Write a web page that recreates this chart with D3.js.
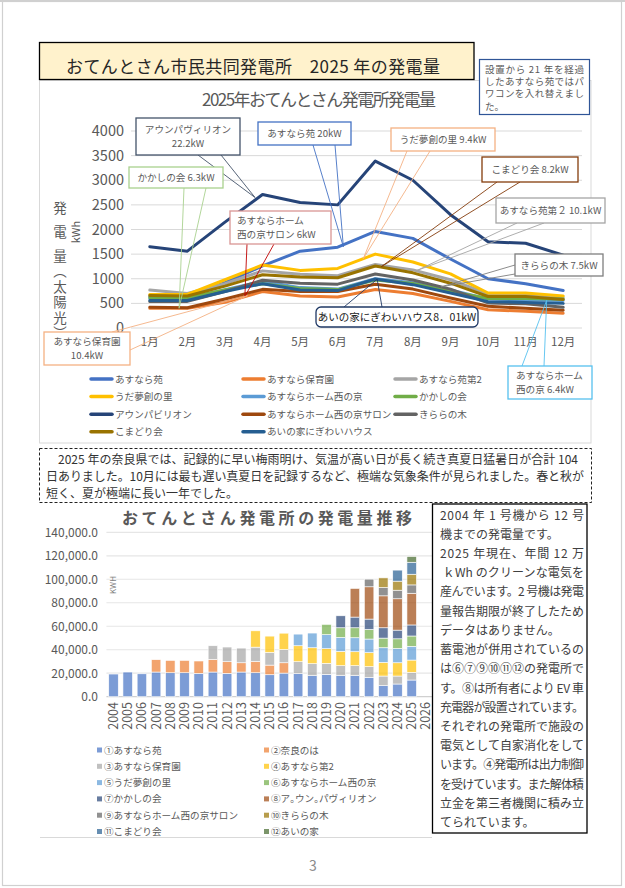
<!DOCTYPE html>
<html lang="ja">
<head>
<meta charset="utf-8">
<script src="https://cdn.jsdelivr.net/npm/d3@7"></script>
<style>
  body { margin: 0; background: #fff; }
  svg { display: block; font-family: 'Noto Sans CJK JP', 'Noto Sans', sans-serif; }
</style>
</head>
<body>
<svg id="page" width="625" height="888"></svg>
<script>
// ---- 2025 monthly output (kWh), line chart
const months = ['1月','2月','3月','4月','5月','6月','7月','8月','9月','10月','11月','12月'];
const lineTicks = [0, 500, 1000, 1500, 2000, 2500, 3000, 3500, 4000];
const lineNames = ['あすなら苑','あすなら保育園','あすなら苑第2','うだ夢創の里','あすならホーム西の京','かかしの会',
  'アウンパビリオン','あすならホーム西の京サロン','きららの木','こまどり会','あいの家にぎわいハウス'];
const lineColors = ['#4472C4','#ED7D31','#A5A5A5','#FFC000','#5B9BD5','#70AD47','#264478','#9E480E','#636363','#997300','#255E91'];

const asunaraEn   = [640, 650, 920, 1260, 1560, 1640, 1960, 1820, 1400, 1000, 900, 760];
const hoikuen     = [400, 400, 520, 740, 650, 630, 780, 700, 540, 370, 340, 300];
const asunaraDai2 = [770, 700, 900, 1160, 1090, 1060, 1290, 1180, 980, 690, 670, 620];
const udaMusou    = [680, 680, 980, 1280, 1170, 1210, 1500, 1340, 1100, 710, 710, 650];
const nishinokyo  = [600, 600, 780, 950, 820, 790, 1000, 920, 770, 590, 570, 560];
const kakashi     = [620, 620, 770, 900, 800, 780, 975, 905, 740, 600, 600, 590];
const aunPavilion = [1650, 1560, 2150, 2710, 2550, 2500, 3390, 3000, 2300, 1750, 1720, 1480];
const salon       = [420, 410, 590, 785, 740, 740, 890, 790, 610, 440, 400, 360];
const kiraranoki  = [540, 540, 740, 970, 910, 890, 1095, 975, 790, 510, 490, 420];
const komadori    = [660, 650, 850, 1080, 1035, 1020, 1258, 1120, 910, 640, 640, 580];
const ainoie      = [560, 560, 740, 900, 770, 760, 995, 880, 710, 535, 520, 500];
const lineSeries = [asunaraEn, hoikuen, asunaraDai2, udaMusou, nishinokyo, kakashi,
  aunPavilion, salon, kiraranoki, komadori, ainoie];

// ---- yearly output (kWh), stacked bars
const years = ['2004','2005','2006','2007','2008','2009','2010','2011','2012','2013','2014','2015',
  '2016','2017','2018','2019','2020','2021','2022','2023','2024','2025','2026'];
const barTicks = [0, 20000, 40000, 60000, 80000, 100000, 120000, 140000];
const barNames = ['①あすなら苑','②奈良のは','③あすなら保育園','④あすなら第2','⑤うだ夢創の里','⑥あすならホーム西の京',
  '⑦かかしの会','⑧ア｡ウン｡パヴィリオン','⑨あすならホーム西の京サロン','⑩きららの木','⑪こまどり会','⑫あいの家'];
const barColors = ['#4472C4','#ED7D31','#A5A5A5','#FFC000','#5B9BD5','#70AD47','#264478','#9E480E','#636363','#997300','#255E91','#43682B'];

const b01 = [19300,21000,19500,21000,20400,20400,19900,21000,19900,21000,20400,18700,20100,19600,17900,19000,17900,17900,16500,9400,10800,14200,0];
const b02 = [0,0,0,10500,10500,10500,10500,10800,9900,7900,9600,8200,8800,0,0,0,0,0,0,0,0,0,0];
const b03 = [0,0,0,0,0,0,0,11600,12500,12500,12200,10800,11300,10200,10200,9400,8500,8500,9100,8200,6800,6500,0];
const b04 = [0,0,0,0,0,0,0,0,0,0,13900,13900,13900,13600,13600,12500,12200,11900,11900,11600,11300,10500,0];
const b05 = [0,0,0,0,0,0,0,0,0,0,0,0,0,9900,12500,11900,11900,11900,11600,12500,12200,11700,0];
const b06 = [0,0,0,0,0,0,0,0,0,0,0,0,0,0,0,8800,8200,8500,8200,8200,8200,8800,0];
const b07 = [0,0,0,0,0,0,0,0,0,0,0,0,0,0,0,0,10200,9100,8800,8800,7400,9400,0];
const b08 = [0,0,0,0,0,0,0,0,0,0,0,0,0,0,0,0,0,24400,27500,27200,26700,27000,0];
const b09 = [0,0,0,0,0,0,0,0,0,0,0,0,0,0,0,0,0,0,6500,7100,7300,7100,0];
const b10 = [0,0,0,0,0,0,0,0,0,0,0,0,0,0,0,0,0,0,0,8200,7700,9100,0];
const b11 = [0,0,0,0,0,0,0,0,0,0,0,0,0,0,0,0,0,0,0,0,9400,10200,0];
const b12 = [0,0,0,0,0,0,0,0,0,0,0,0,0,0,0,0,0,0,0,0,0,4900,0];
const barSeries = [b01,b02,b03,b04,b05,b06,b07,b08,b09,b10,b11,b12];

const svg = d3.select('#page');

function txt(g, str, x, y, o = {}) {
  const t = g.append('text').attr('x', x).attr('y', y).text(str)
    .attr('font-size', o.size || 12)
    .attr('fill', o.fill || '#595959')
    .attr('text-anchor', o.anchor || 'start');
  if (o.len) t.attr('textLength', o.len).attr('lengthAdjust', 'spacing');
  if (o.weight) t.attr('font-weight', o.weight);
  return t;
}

// page frame
svg.append('rect').attr('x', 2.5).attr('y', 1.5).attr('width', 619).attr('height', 884)
  .attr('fill', 'none').attr('stroke', '#d0d0d0').attr('stroke-width', 1.2);
svg.append('line').attr('x1', 0).attr('x2', 625).attr('y1', 1).attr('y2', 1)
  .attr('stroke', '#d0d0d0').attr('stroke-width', 2);

// line chart panel
svg.append('rect').attr('x', 39.5).attr('y', 80.5).attr('width', 551.5).attr('height', 362.5)
  .attr('fill', '#fff').attr('stroke', '#d9d9d9');

// page title
svg.append('rect').attr('x', 39.5).attr('y', 42.5).attr('width', 434.5).attr('height', 37)
  .attr('fill', '#FFF2CC').attr('stroke', '#000').attr('stroke-width', 1.3);
txt(svg, 'おてんとさん市民共同発電所　2025 年の発電量', 66, 73, { size: 17, fill: '#262626', len: 374 });

// ================= LINE CHART =================
const lc = svg.append('g').attr('class', 'line-chart');
const x = d3.scalePoint().domain(months).range([131, 582]).padding(0.5);
const y = d3.scaleLinear().domain([0, 4000]).range([328, 131]);

lc.append('g').selectAll('line').data(lineTicks).join('line')
  .attr('x1', 131).attr('x2', 582)
  .attr('y1', d => y(d)).attr('y2', d => y(d))
  .attr('stroke', '#d9d9d9').attr('stroke-width', 1);

lc.append('g').selectAll('text').data(lineTicks).join('text')
  .attr('x', 124).attr('y', d => y(d) + 5)
  .attr('text-anchor', 'end').attr('font-size', 14.5).attr('fill', '#595959')
  .text(d => d);

lc.append('g').selectAll('text').data(months).join('text')
  .attr('x', d => x(d)).attr('y', 346)
  .attr('text-anchor', 'middle').attr('font-size', 11.5).attr('fill', '#595959')
  .text(d => d);

txt(lc, '2025年おてんとさん発電所発電量', 202, 106, { size: 17, len: 234 });

// vertical axis title: one text run, top to bottom
const yTitle = lc.append('text')
  .attr('x', 60).attr('y', 201)
  .attr('font-size', 13.5).attr('fill', '#595959')
  .style('writing-mode', 'vertical-rl');
yTitle.append('tspan').style('letter-spacing', '10.5px').text('発電');
yTitle.append('tspan').style('letter-spacing', '2px').text('量（太陽光）');
lc.append('text').attr('transform', 'translate(80,232) rotate(-90)')
  .attr('text-anchor', 'middle').attr('font-size', 11).attr('fill', '#595959').text('kWh');

const line = d3.line().x((d, i) => x(months[i])).y(d => y(d));
lc.append('g').selectAll('path').data(lineSeries).join('path')
  .attr('d', line).attr('fill', 'none')
  .attr('stroke', (d, i) => lineColors[i]).attr('stroke-width', 3)
  .attr('stroke-linejoin', 'round').attr('stroke-linecap', 'round');

// legend
const lg = lc.append('g');
lineNames.forEach((n, i) => {
  const col = i % 3, row = Math.floor(i / 3);
  const lx = [91, 243, 395][col], ly = 379 + row * 17.6;
  lg.append('line').attr('x1', lx).attr('x2', lx + 21).attr('y1', ly).attr('y2', ly)
    .attr('stroke', lineColors[i]).attr('stroke-width', 3.5).attr('stroke-linecap', 'round');
  txt(lg, n, lx + 24, ly + 3.5, { size: 9.6 });
});

// callouts
const callouts = [
  { box: [136, 118, 104, 37], color: '#44546A', base: [[198, 155], [221, 155]], tip: [2.8, 2650], lines: ['アウンパヴィリオン', '22.2kW'] },
  { box: [258, 122, 93, 23], color: '#4472C4', base: [[313, 145], [335, 145]], tip: [5.15, 1650], lines: ['あすなら苑 20kW'] },
  { box: [391, 128, 104, 23], color: '#F4B183', base: [[407, 151], [430, 151]], tip: [5.68, 1407], lines: ['うだ夢創の里 9.4kW'] },
  { box: [482, 157, 96, 25], color: '#843C0C', base: [[497, 182], [520, 182]], tip: [6.16, 1245], lines: ['こまどり会 8.2kW'] },
  { box: [496, 198, 109, 25], color: '#A5A5A5', base: [[517, 223], [544, 223]], tip: [7.1, 1165], lines: ['あすなら苑第２ 10.1kW'] },
  { box: [515, 254, 88, 22], color: '#7F7F7F', base: [[515, 265], [515, 274]], tip: [7.75, 836], lines: ['きららの木 7.5kW'] },
  { box: [316, 307, 162, 20], color: '#1F3864', base: [[344, 307], [382, 307]], tip: [6.05, 990], lines: ['あいの家にぎわいハウス8．01kW'], rx: 5, fill: '#1a1a1a', size: 10.5 },
  { box: [129, 167, 94, 21], color: '#A9D18E', base: [[184, 188], [206, 188]], tip: [0.78, 400], lines: ['かかしの会 6.3kW'] },
  { box: [230, 211, 101, 33], color: '#D99694', stroke: '#C00000', base: [[247, 244], [274, 244]], tip: [2.53, 640], lines: ['あすならホーム', '西の京サロン 6kW'], left: 237 },
  { box: [44, 332, 86, 33], color: '#F4B183', base: [[112, 332], [130, 350]], tip: [2.6, 656], lines: ['あすなら保育園', '10.4kW'] },
  { box: [508, 366, 84, 33], color: '#56C1EF', base: [[522, 366], [544, 366]], tip: [10.56, 560], lines: ['あすならホーム', '西の京 6.4kW'], left: 516 }
];

const cg = lc.append('g').attr('class', 'callouts');
callouts.forEach(c => {
  const tx = x(months[0]) + c.tip[0] * x.step(), ty = y(c.tip[1]);
  cg.append('path')
    .attr('d', `M${c.base[0][0]},${c.base[0][1]}L${tx},${ty}L${c.base[1][0]},${c.base[1][1]}`)
    .attr('fill', 'none').attr('stroke', c.stroke || c.color).attr('stroke-width', 0.9);
  const [bx, by, bw, bh] = c.box;
  cg.append('rect').attr('x', bx).attr('y', by).attr('width', bw).attr('height', bh)
    .attr('rx', c.rx || 0).attr('fill', '#fff').attr('stroke', c.color).attr('stroke-width', 1.3);
  const n = c.lines.length;
  c.lines.forEach((s, i) => {
    const ly = by + bh / 2 + (i - (n - 1) / 2) * 13.4 + 3.6;
    if (c.left) txt(cg, s, c.left, ly, { size: c.size || 9.6, fill: c.fill || '#595959' });
    else txt(cg, s, bx + bw / 2, ly, { size: c.size || 9.6, fill: c.fill || '#595959', anchor: 'middle' });
  });
});

// note box top right
svg.append('rect').attr('x', 479.5).attr('y', 59.5).attr('width', 110).attr('height', 55)
  .attr('fill', '#fff').attr('stroke', '#2F5597').attr('stroke-width', 1.2);
['設置から 21 年を経過', 'したあすなら苑ではパ', 'ワコンを入れ替えまし', 'た。'].forEach((s, i) => {
  txt(svg, s, 485, 72.5 + i * 12.4, { size: 9.5, len: i < 3 ? 99 : null });
});

// ================= PARAGRAPH =================
svg.append('rect').attr('x', 39.5).attr('y', 448.5).attr('width', 552).attr('height', 54)
  .attr('fill', 'none').attr('stroke', '#222').attr('stroke-width', 1).attr('stroke-dasharray', '3,2');
txt(svg, '2025 年の奈良県では、記録的に早い梅雨明け、気温が高い日が長く続き真夏日猛暑日が合計 104', 58, 464, { size: 12, fill: '#333', len: 520 });
txt(svg, '日ありました。10月には最も遅い真夏日を記録するなど、極端な気象条件が見られました。春と秋が', 46, 481, { size: 12, fill: '#333', len: 538 });
txt(svg, '短く、夏が極端に長い一年でした。', 46, 498, { size: 12, fill: '#333' });

// ================= BAR CHART =================
const bc = svg.append('g').attr('class', 'bar-chart');
const xb = d3.scaleBand().domain(years).range([106.4, 433]).paddingInner(0.33).paddingOuter(0.165);
const yb = d3.scaleLinear().domain([0, 140000]).range([696.7, 532.3]);
const fmt = d3.format(',.1f');

bc.append('g').selectAll('line').data(barTicks).join('line')
  .attr('x1', 106.4).attr('x2', 433)
  .attr('y1', d => yb(d)).attr('y2', d => yb(d))
  .attr('stroke', d => d === 0 ? '#d0d0d0' : '#e6e6e6').attr('stroke-width', 1.2);

bc.append('g').selectAll('text').data(barTicks).join('text')
  .attr('x', 98).attr('y', d => yb(d) + 4.5)
  .attr('text-anchor', 'end').attr('font-size', 12).attr('fill', '#595959')
  .text(d => fmt(d));

const rows = years.map((yr, i) => {
  const r = { year: yr };
  barSeries.forEach((s, k) => { r['s' + k] = s[i]; });
  return r;
});
const keys = barSeries.map((s, k) => 's' + k);
const stacked = d3.stack().keys(keys)(rows);

bc.append('g').selectAll('g').data(stacked).join('g')
  .attr('fill', (d, k) => barColors[k]).attr('fill-opacity', 0.7)
  .selectAll('rect').data(d => d.filter(v => v[1] > v[0])).join('rect')
  .attr('x', d => xb(d.data.year)).attr('width', xb.bandwidth())
  .attr('y', d => yb(d[1])).attr('height', d => yb(d[0]) - yb(d[1]))
  .attr('stroke', '#fff').attr('stroke-width', 0.6);

bc.append('g').selectAll('text').data(years).join('text')
  .attr('transform', d => `translate(${xb(d) + xb.bandwidth() / 2 + 4.5},702) rotate(-90)`)
  .attr('text-anchor', 'end').attr('font-size', 12.5).attr('fill', '#595959')
  .text(d => d);

txt(bc, 'おてんとさん発電所の発電量推移', 122, 524, { size: 16, weight: 700, len: 290 });
bc.append('text').attr('transform', 'translate(116,585) rotate(-90)')
  .attr('text-anchor', 'middle').attr('font-size', 8).attr('fill', '#7f7f7f').text('KWH');

const bl = bc.append('g');
barNames.forEach((n, i) => {
  const col = i % 2, row = Math.floor(i / 2);
  const lx = [97, 264][col], ly = 750 + row * 16.3;
  bl.append('rect').attr('x', lx).attr('y', ly - 2.5).attr('width', 5).attr('height', 5)
    .attr('fill', barColors[i]).attr('fill-opacity', 0.7);
  txt(bl, n, lx + 7, ly + 3.5, { size: 9.6 });
});

svg.append('line').attr('x1', 40).attr('x2', 432).attr('y1', 837.5).attr('y2', 837.5)
  .attr('stroke', '#d9d9d9');

// right side text box
svg.append('rect').attr('x', 432.5).attr('y', 504).attr('width', 154.5).attr('height', 329)
  .attr('fill', '#fff').attr('stroke', '#000').attr('stroke-width', 1.3);
const sideLines = [
  ['2004 年 1 号機から 12 号', true],
  ['機までの発電量です。', false],
  ['2025 年現在、年間 12 万', true],
  ['\u00a0ｋWh のクリーンな電気を', true],
  ['産んでいます。2 号機は発電', true],
  ['量報告期限が終了したため', true],
  ['データはありません。', false],
  ['蓄電池が併用されているの', true],
  ['は⑥⑦⑨⑩⑪⑫の発電所で', true],
  ['す。⑧は所有者により EV 車', true],
  ['充電器が設置されています。', true],
  ['それぞれの発電所で施設の', true],
  ['電気として自家消化をして', true],
  ['います。④発電所は出力制御', true],
  ['を受けています。また解体積', true],
  ['立金を第三者機関に積み立', true],
  ['てられています。', false]
];
sideLines.forEach((l, i) => {
  txt(svg, l[0], 440, 519.5 + i * 19.23, { size: 12, fill: '#404040', len: l[1] ? 144 : null });
});

// page number
txt(svg, '3', 313, 871, { size: 14, fill: '#8c8c8c', anchor: 'middle' });
</script>
</body>
</html>
